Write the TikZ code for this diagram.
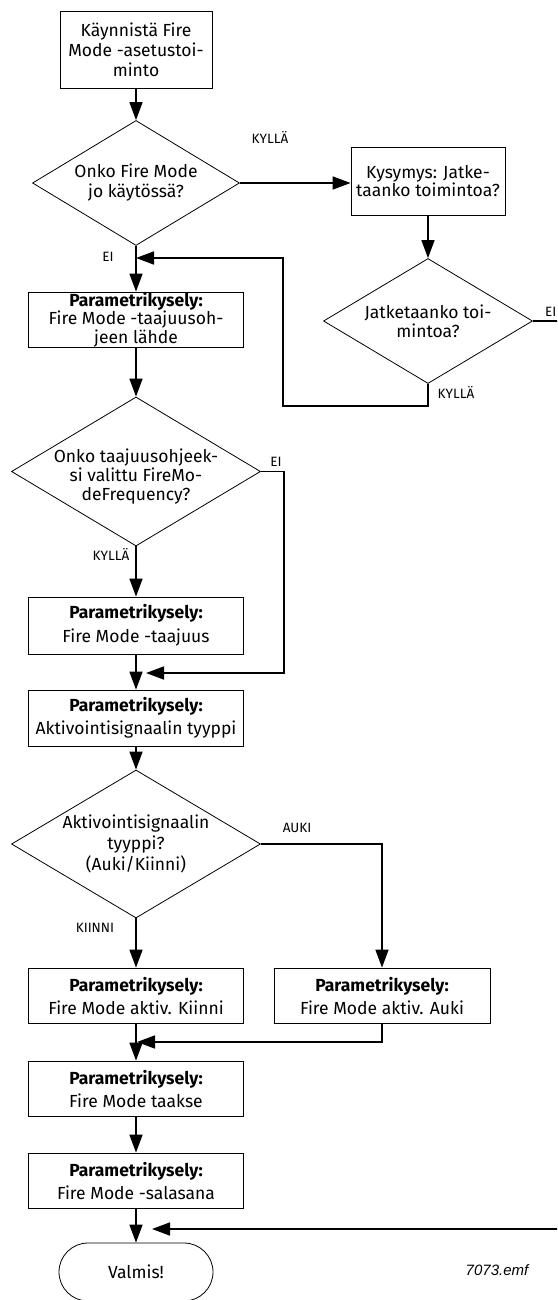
\documentclass[tikz,border=0pt]{standalone}
\usepackage{fontspec}
\setmainfont{Fira Sans}
\newfontfamily\emffont{Liberation Sans}
\usetikzlibrary{shapes.geometric,arrows.meta}
\newcommand{\dtxt}[2][0pt]{\raisebox{#1}[0pt][0pt]{\makebox[0pt]{\smash{\begin{tabular}{@{}c@{}}#2\end{tabular}}}}}
\begin{document}
\begin{tikzpicture}[x=1pt,y=-1pt,
  box/.style={draw, line width=0.8pt, align=center, inner sep=0pt, font=\fontsize{17.5}{20}\selectfont},
  dia/.style={draw, diamond, line width=0.8pt, inner sep=0pt, font=\fontsize{17.5}{19}\selectfont},
  conn/.style={line width=1.6pt, -{Triangle[length=18pt,width=13pt]}},
  lbl/.style={font=\fontsize{13.5}{15}\selectfont, inner sep=0pt}]
\useasboundingbox (0,0) rectangle (557,1300);
\clip (0,0) rectangle (557,1300);

\node[box, minimum width=152pt, minimum height=77pt] (b1) at (136,49.5) {Käynnistä Fire\\Mode -asetustoi-\\minto};
\node[dia, minimum width=207pt, minimum height=125pt] (d1) at (136,183) {\dtxt[-5pt]{Onko Fire Mode\\jo käytössä?}};
\node[box, minimum width=154pt, minimum height=68pt, font=\fontsize{17.5}{18.5}\selectfont] (b2) at (428,181) {Kysymys: Jatke-\\taanko toimintoa?};
\node[dia, minimum width=209pt, minimum height=125pt, font=\fontsize{17.5}{18}\selectfont] (d2) at (428,321) {\dtxt[-7pt]{Jatketaanko toi-\\mintoa?}};
\node[box, minimum width=215pt, minimum height=55pt, font=\fontsize{17.5}{16.5}\selectfont] (b3) at (136,319.5) {\textbf{Parametrikysely:}\\Fire Mode -taajuusoh-\\jeen lähde};
\node[dia, minimum width=249pt, minimum height=149pt, font=\fontsize{17.5}{17.5}\selectfont] (d3) at (136,471.5) {\dtxt[-10pt]{Onko taajuusohjeek-\\si valittu FireMo-\\deFrequency?}};
\node[box, minimum width=215pt, minimum height=57pt, font=\fontsize{17.5}{24}\selectfont] (b4) at (136,625.5) {\textbf{Parametrikysely:}\\Fire Mode -taajuus};
\node[box, minimum width=215pt, minimum height=56pt, font=\fontsize{17.5}{23}\selectfont] (b5) at (136,718) {\textbf{Parametrikysely:}\\Aktivointisignaalin tyyppi};
\node[dia, minimum width=249pt, minimum height=148pt, font=\fontsize{17.5}{21}\selectfont] (d4) at (136,844) {\dtxt[-6pt]{Aktivointisignaalin\\tyyppi?\\(Auki/Kiinni)}};
\node[box, minimum width=215pt, minimum height=55pt, font=\fontsize{17.5}{23}\selectfont] (b6) at (136,995.5) {\textbf{Parametrikysely:}\\Fire Mode aktiv. Kiinni};
\node[box, minimum width=216pt, minimum height=55pt, font=\fontsize{17.5}{23}\selectfont] (b7) at (382,995.5) {\textbf{Parametrikysely:}\\Fire Mode aktiv. Auki};
\node[box, minimum width=215pt, minimum height=55pt, font=\fontsize{17.5}{23}\selectfont] (b8) at (136,1088.5) {\textbf{Parametrikysely:}\\Fire Mode taakse};
\node[box, minimum width=215pt, minimum height=55pt, font=\fontsize{17.5}{23}\selectfont] (b9) at (136,1180.5) {\textbf{Parametrikysely:}\\Fire Mode -salasana};
\node[draw, line width=0.8pt, rounded corners=29pt, minimum width=154pt, minimum height=58pt, inner sep=0pt, font=\fontsize{17.5}{19}\selectfont] (v) at (136,1272) {Valmis!};

\coordinate (j1) at (136,258);
\coordinate (j2) at (146,673);
\coordinate (j3) at (137,1042);
\coordinate (j4) at (152,1229);
\coordinate (r1) at (575,321);
\coordinate (r2) at (575,1229);

\draw[conn] (b1.south) -- (d1.north);
\draw[conn] (d1.east) -- (d1.east -| b2.west);
\draw[conn] (b2.south) -- (d2.north);
\draw[conn] (d2.south) -- (428,406) -- (283,406) -- (283,258) -- (j1);
\draw[conn] (d1.south) -- (b3.north);
\draw[conn] (b3.south) -- (d3.north);
\draw[conn] (d3.south) -- (b4.north);
\draw[conn] (d3.east) -- (284,471.5) -- (284,673) -- (j2);
\draw[conn] (b4.south) -- (b5.north);
\draw[conn] (b5.south) -- (d4.north);
\draw[conn] (d4.south) -- (b6.north);
\draw[conn] (d4.east) -| (b7.north);
\draw[conn] (b7.south) |- (j3);
\draw[conn] (b6.south) -- (b8.north);
\draw[conn] (b8.south) -- (b9.north);
\draw[conn] (b9.south) -- (v.north);
\draw[conn] (d2.east) -- (r1) -- (r2) -- (j4);

\node[lbl] (lk1) at (270,137) {KYLLÄ};
\node[lbl] (le1) at (108,257) {EI};
\node[lbl, anchor=east] (le2) at (556.5,312) {EI};
\node[lbl] (lk2) at (456,392) {KYLLÄ};
\node[lbl] (le3) at (276,462) {EI};
\node[lbl] (lk3) at (111,554) {KYLLÄ};
\node[lbl] (la) at (297,828) {AUKI};
\node[lbl] (lki) at (95,928) {KIINNI};
\node[font=\emffont\itshape\fontsize{15}{17}\selectfont, inner sep=0pt] (emf) at (497,1270) {7073.emf};
\end{tikzpicture}
\end{document}
